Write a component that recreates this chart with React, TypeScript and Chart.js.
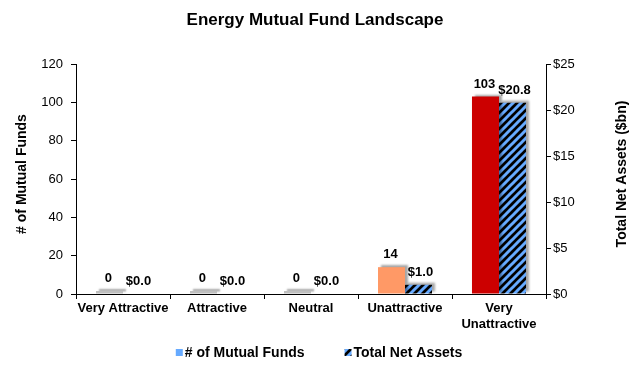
import React, { useEffect, useRef } from 'react';
import { Chart, registerables } from 'chart.js';

Chart.register(...registerables);

const categories: (string | string[])[] = ['Very Attractive', 'Attractive', 'Neutral', 'Unattractive', ['Very', 'Unattractive']];
const fundCounts = [0, 0, 0, 14, 103];
const netAssets = [0, 0, 0, 1.0, 20.8];
const fundColors = ['#66AAFF', '#66AAFF', '#66AAFF', '#FF9966', '#CC0000'];
const seriesNames = ['# of Mutual Funds', 'Total Net Assets'];
const leftAxis = { min: 0, max: 120, step: 20, title: '# of Mutual Funds' };
const rightAxis = { min: 0, max: 25, step: 5, title: 'Total Net Assets ($bn)' };

const FONT = "'Liberation Sans', Arial, sans-serif";

export default function App() {
  const ref = useRef<HTMLCanvasElement>(null);

  useEffect(() => {
    const canvas = ref.current!;
    const pc = document.createElement('canvas');
    pc.width = 8;
    pc.height = 8;
    const p = pc.getContext('2d')!;
    p.fillStyle = '#000';
    p.fillRect(0, 0, 8, 8);
    p.strokeStyle = '#66AAFF';
    p.lineWidth = 3;
    [[-2, 10, 10, -2], [-2, 2, 2, -2], [6, 10, 10, 6]].forEach(([a, b, c, d]) => {
      p.beginPath();
      p.moveTo(a, b);
      p.lineTo(c, d);
      p.stroke();
    });
    const pattern = canvas.getContext('2d')!.createPattern(pc, 'repeat')!;

    const shadowPlugin = {
      id: 'shadow',
      beforeDatasetDraw(chart: any) {
        const c = chart.ctx;
        c.save();
        c.shadowColor = 'rgba(0,0,0,0.35)';
        c.shadowOffsetX = 3;
        c.shadowOffsetY = -2;
        c.shadowBlur = 2;
      },
      afterDatasetDraw(chart: any) {
        chart.ctx.restore();
      },
    };

    const labelPlugin = {
      id: 'barLabels',
      afterDatasetsDraw(chart: any) {
        const c = chart.ctx;
        c.save();
        c.font = `bold 13px ${FONT}`;
        c.fillStyle = '#000';
        c.textAlign = 'center';
        c.textBaseline = 'bottom';
        chart.data.datasets.forEach((ds: any, di: number) => {
          const meta = chart.getDatasetMeta(di);
          meta.data.forEach((el: any, i: number) => {
            const v = ds.data[i];
            const txt = di === 0 ? String(v) : '$' + v.toFixed(1);
            c.fillText(txt, el.x + (di === 1 ? 2 : -1), el.y - 6);
          });
        });
        c.restore();
      },
    };

    const extrasPlugin = {
      id: 'extras',
      afterDraw(chart: any) {
        const c = chart.ctx;
        const area = chart.chartArea;
        const midY = (area.top + area.bottom) / 2 - 5;
        // axis titles, reading bottom to top
        [[22, leftAxis.title], [622, rightAxis.title]].forEach(([x, t]) => {
          c.save();
          c.font = `bold 14px ${FONT}`;
          c.fillStyle = '#000';
          c.textAlign = 'center';
          c.textBaseline = 'middle';
          c.translate(x as number, midY);
          c.rotate(-Math.PI / 2);
          c.fillText(t as string, 0, 0);
          c.restore();
        });

        // legend
        c.save();
        c.font = `bold 14px ${FONT}`;
        c.textBaseline = 'middle';
        c.textAlign = 'left';
        const box = 7;
        const gap = 2;
        const spacing = 40;
        const w0 = c.measureText(seriesNames[0]).width;
        const w1 = c.measureText(seriesNames[1]).width;
        const total = box + gap + w0 + spacing + box + gap + w1;
        let x = 319 - total / 2;
        const y = 353;
        c.fillStyle = '#66AAFF';
        c.fillRect(x, y - 4, box, box);
        c.fillStyle = '#000';
        c.fillText(seriesNames[0], x + box + gap, y);
        x += box + gap + w0 + spacing;
        c.fillStyle = pattern;
        c.fillRect(x, y - 4, box, box);
        c.fillStyle = '#000';
        c.fillText(seriesNames[1], x + box + gap, y);
        c.restore();
      },
    };

    const chart = new Chart(canvas, {
      type: 'bar',
      data: {
        labels: categories as any,
        datasets: [
          {
            label: seriesNames[0],
            data: fundCounts,
            yAxisID: 'y',
            backgroundColor: (ctx: any) => (fundCounts[ctx.dataIndex] === 0 ? '#BFBFBF' : fundColors[ctx.dataIndex]),
            minBarLength: 3,
            categoryPercentage: 0.575,
            barPercentage: 1,
            borderWidth: 0,
          },
          {
            label: seriesNames[1],
            data: netAssets,
            yAxisID: 'y1',
            backgroundColor: pattern as any,
            categoryPercentage: 0.575,
            barPercentage: 1,
            borderWidth: 0,
          },
        ],
      },
      options: {
        responsive: false,
        animation: false,
        layout: { padding: { left: 0, right: 0, top: 0, bottom: 34 } },
        font: { family: FONT } as any,
        plugins: {
          legend: { display: false },
          tooltip: { enabled: false },
          title: {
            display: true,
            text: 'Energy Mutual Fund Landscape',
            color: '#000',
            font: { family: FONT, size: 17, weight: 'bold' },
            padding: { top: 10, bottom: 33.6 },
          },
        },
        scales: {
          x: {
            grid: { display: true, drawOnChartArea: false, offset: true, tickLength: 5, color: '#000' },
            border: { color: '#000', width: 1 },
            ticks: { font: { family: FONT, size: 13, weight: 'bold' }, color: '#000', padding: 2, maxRotation: 0, autoSkip: false },
            afterFit: (s: any) => { s.height = 40; },
          },
          y: {
            position: 'left',
            min: leftAxis.min,
            max: leftAxis.max,
            ticks: { stepSize: leftAxis.step, font: { family: FONT, size: 13 }, color: '#000', padding: 8 },
            grid: { drawOnChartArea: false, tickLength: 5, color: '#000' },
            border: { color: '#000', width: 1 },
            title: { display: false },
            afterFit: (s: any) => { s.width = 76; },
          },
          y1: {
            position: 'right',
            min: rightAxis.min,
            max: rightAxis.max,
            ticks: { stepSize: rightAxis.step, font: { family: FONT, size: 13 }, color: '#000', padding: 2, callback: (v: any) => '$' + v },
            grid: { drawOnChartArea: false, tickLength: 5, color: '#000' },
            border: { color: '#000', width: 1 },
            title: { display: false },
            afterFit: (s: any) => { s.width = 84; },
          },
        },
      },
      plugins: [shadowPlugin, labelPlugin, extrasPlugin],
    });

    return () => chart.destroy();
  }, []);

  return (
    <div style={{ position: 'fixed', left: 0, top: 0, width: 630, height: 368, background: '#fff' }}>
      <canvas ref={ref} width={630} height={368} />
    </div>
  );
}
